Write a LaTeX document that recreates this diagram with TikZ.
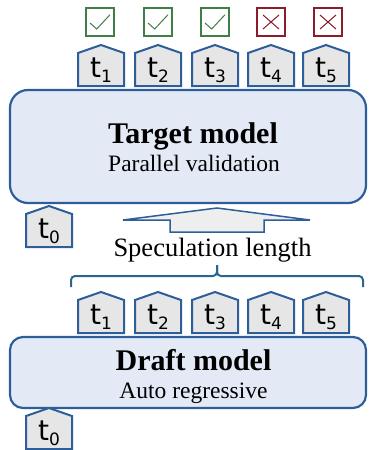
\documentclass[tikz,border=0pt]{standalone}
\usepackage{fontspec}
\setmainfont{Liberation Serif}
\newfontfamily\tokfont{DejaVu Sans}

\definecolor{boxblue}{HTML}{2E5E9A}
\definecolor{boxfill}{HTML}{E3EAF6}
\definecolor{tokfill}{HTML}{E6E6E6}
\definecolor{okgreen}{HTML}{3F7F47}
\definecolor{badred}{HTML}{8C1C2C}
\definecolor{bracecol}{HTML}{2A6690}
\definecolor{arrowfill}{HTML}{EEEEEE}

\tikzset{
  modelbox/.style={draw=boxblue, fill=boxfill, line width=2.2pt, inner sep=0pt},
  tokshape/.style={draw=boxblue, fill=tokfill, line width=2pt},
  toklabel/.style={anchor=base, inner sep=0pt, font=\tokfont\fontsize{28}{28}\selectfont},
  okbox/.style={draw=okgreen, fill=white, line width=1.2pt, minimum size=28pt, inner sep=0pt,
    path picture={\draw[okgreen, line width=1pt] ([shift={(-10,1)}]path picture bounding box.center) -- ++(6.7,6) -- ++(13.3,-14.3);}},
  badbox/.style={draw=badred, fill=white, line width=1.2pt, minimum size=28pt, inner sep=0pt,
    path picture={\draw[badred, line width=1pt] ([shift={(-8,-7)}]path picture bounding box.center) -- ++(16,14)
      ([shift={(8,-7)}]path picture bounding box.center) -- ++(-16,14);}},
  title/.style={anchor=base, inner sep=0pt, font=\bfseries\fontsize{30}{30}\selectfont},
  subtitle/.style={anchor=base, inner sep=0pt, font=\fontsize{23.5}{23.5}\selectfont},
  bigarrow/.style={draw=boxblue, fill=arrowfill, line width=1.5pt},
  bracket/.style={draw=bracecol, line width=2pt, rounded corners=4pt},
}

\newcommand\tk[1]{t\raisebox{-5pt}{\fontsize{17}{17}\selectfont #1}}
\newcommand\tokenbox[4]{%
  \filldraw[tokshape] (#2-23,#3) -- (#2-23,#3-33) -- (#2,#3-41) -- (#2+23,#3-33) -- (#2+23,#3) -- cycle;
  \node[toklabel] (#1) at (#2,#3-9) {\tk{#4}};
}

\begin{document}
\begin{tikzpicture}[x=1pt, y=-1pt]

  \useasboundingbox (0,0) rectangle (368,450);

  \foreach \i/\x in {1/100,2/158,3/215}
    \node[okbox] (ok\i) at (\x,22) {};
  \foreach \i/\x in {4/271,5/328}
    \node[badbox] (bad\i) at (\x,22) {};

  \foreach \i/\x in {1/101,2/158,3/215,4/271,5/326}
    \tokenbox{up\i}{\x}{86}{\i};

  \node[modelbox, rounded corners=18pt, minimum width=356pt, minimum height=113pt] (target) at (188,146.5) {};
  \node[title] (targettitle) at (193,143) {Target model};
  \node[subtitle] (targetsub) at (194,171.5) {Parallel validation};

  \tokenbox{upzero}{49}{247}{0};

  \filldraw[bigarrow] (217,208) -- (310,220) -- (264,220) -- (264,232) -- (170,232) -- (170,220) -- (123,220) -- cycle;

  \node[anchor=base, inner sep=0pt, font=\fontsize{26.5}{26.5}\selectfont] (speclen) at (212.5,256.5) {Speculation length};

  \draw[bracket] (71,287) -- (71,276) -- (217,276) -- (217,265);
  \draw[bracket] (363,287) -- (363,276) -- (217,276) -- (217,265);

  \foreach \i/\x in {1/101,2/158,3/215,4/271,5/326}
    \tokenbox{low\i}{\x}{333}{\i};

  \node[modelbox, rounded corners=13pt, minimum width=356pt, minimum height=71pt] (draft) at (188,372.5) {};
  \node[title] (drafttitle) at (193.5,370) {Draft model};
  \node[subtitle] (draftsub) at (193.5,398) {Auto regressive};

  \tokenbox{lowzero}{49}{449}{0};

\end{tikzpicture}
\end{document}
